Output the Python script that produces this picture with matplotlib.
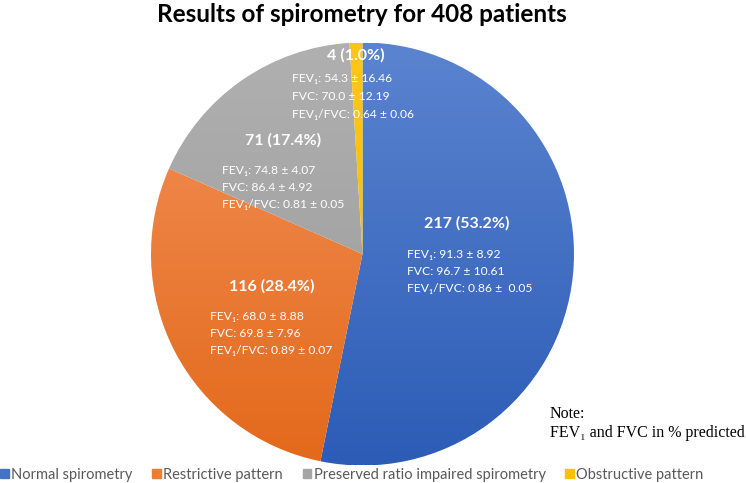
import numpy as np
import matplotlib
matplotlib.use("Agg")
import matplotlib.pyplot as plt
from matplotlib.colors import LinearSegmentedColormap

# data
categories = ["Normal spirometry", "Restrictive pattern",
              "Preserved ratio impaired spirometry", "Obstructive pattern"]
counts = [217, 116, 71, 4]
pcts = [53.2, 28.4, 17.4, 1.0]
fev1 = ["91.3 ± 8.92", "68.0 ± 8.88", "74.8 ± 4.07", "54.3 ± 16.46"]
fvc = ["96.7 ± 10.61", "69.8 ± 7.96", "86.4 ± 4.92", "70.0 ± 12.19"]
ratio = ["0.86 ±  0.05", "0.89 ± 0.07", "0.81 ± 0.05", "0.64 ± 0.06"]

# excel-like gradient: top (light) -> bottom (dark)
grad = [("#5B84D0", "#2C5CB6"), ("#F39159", "#E3691B"),
        ("#B0B0B0", "#999999"), ("#FFC619", "#F2B600")]
flat = ["#4472C4", "#ED7D31", "#A5A5A5", "#FFC000"]

W, H = 746, 483
fig = plt.figure(figsize=(W / 100, H / 100), dpi=100)

# pie center (362.5, 254) px, radius 211.5 px
cx, cy, r = 362.5, 254, 211.5
ax = fig.add_axes([(cx - r) / W, 1 - (cy + r) / H, 2 * r / W, 2 * r / H])
wedges, _ = ax.pie(counts, startangle=90, counterclock=False, radius=1,
                   colors=flat, wedgeprops=dict(linewidth=0))
ax.set_xlim(-1, 1)
ax.set_ylim(-1, 1)
ax.axis("off")

# fill each wedge with a vertical gradient
yy = np.linspace(1, 0, 256).reshape(-1, 1)
for w, (c1, c2) in zip(wedges, grad):
    cmap = LinearSegmentedColormap.from_list("g", [c2, c1])
    im = ax.imshow(yy, cmap=cmap, extent=(-1, 1, -1, 1), aspect="auto",
                   origin="upper", vmin=0, vmax=1, zorder=w.get_zorder() + 0.1)
    im.set_clip_path(w)
    w.set_facecolor("none")

sans = ["Lato", "DejaVu Sans"]


def px(x, y):
    return x / W, 1 - y / H


fig.text(*px(362, 14), "Results of spirometry for 408 patients", ha="center",
         va="center", fontsize=17.5, fontweight="bold", family=sans)

# slice labels: (head x center, head y, detail left x, detail first y)
spots = [(467, 223, 407, 254), (272, 286, 210, 316),
         (283, 140, 222, 170), (356, 55, 292, 79)]
for i, (hx, hy, dx, dy) in enumerate(spots):
    fig.text(*px(hx, hy), "%d (%.1f%%)" % (counts[i], pcts[i]), ha="center",
             va="center", color="white", fontsize=11.5, fontweight="bold",
             family=sans)
    lines = ["FEV₁: " + fev1[i], "FVC: " + fvc[i], "FEV₁/FVC: " + ratio[i]]
    for k, t in enumerate(lines):
        fig.text(*px(dx, dy + k * 17.5), t, ha="left", va="center",
                 color="white", fontsize=8.7, family=sans)

serif = ["Liberation Serif", "DejaVu Serif"]
fig.text(*px(550, 414), "Note:", ha="left", va="center", fontsize=11.5,
         family=serif)
fig.text(*px(550, 433), "FEV₁ and FVC in % predicted", ha="left",
         va="center", fontsize=11.5, family=serif)

handles = [plt.Rectangle((0, 0), 1, 1, color=c) for c in flat]
fig.legend(handles, categories, loc="center left", bbox_to_anchor=(-0.017, 1 - 475 / H),
           ncol=4, frameon=False, handlelength=0.6, handleheight=0.6,
           handletextpad=0.15, columnspacing=1.35,
           prop=dict(family=sans, size=10.5), labelcolor="#595959")

fig.savefig("out.png", dpi=100)
